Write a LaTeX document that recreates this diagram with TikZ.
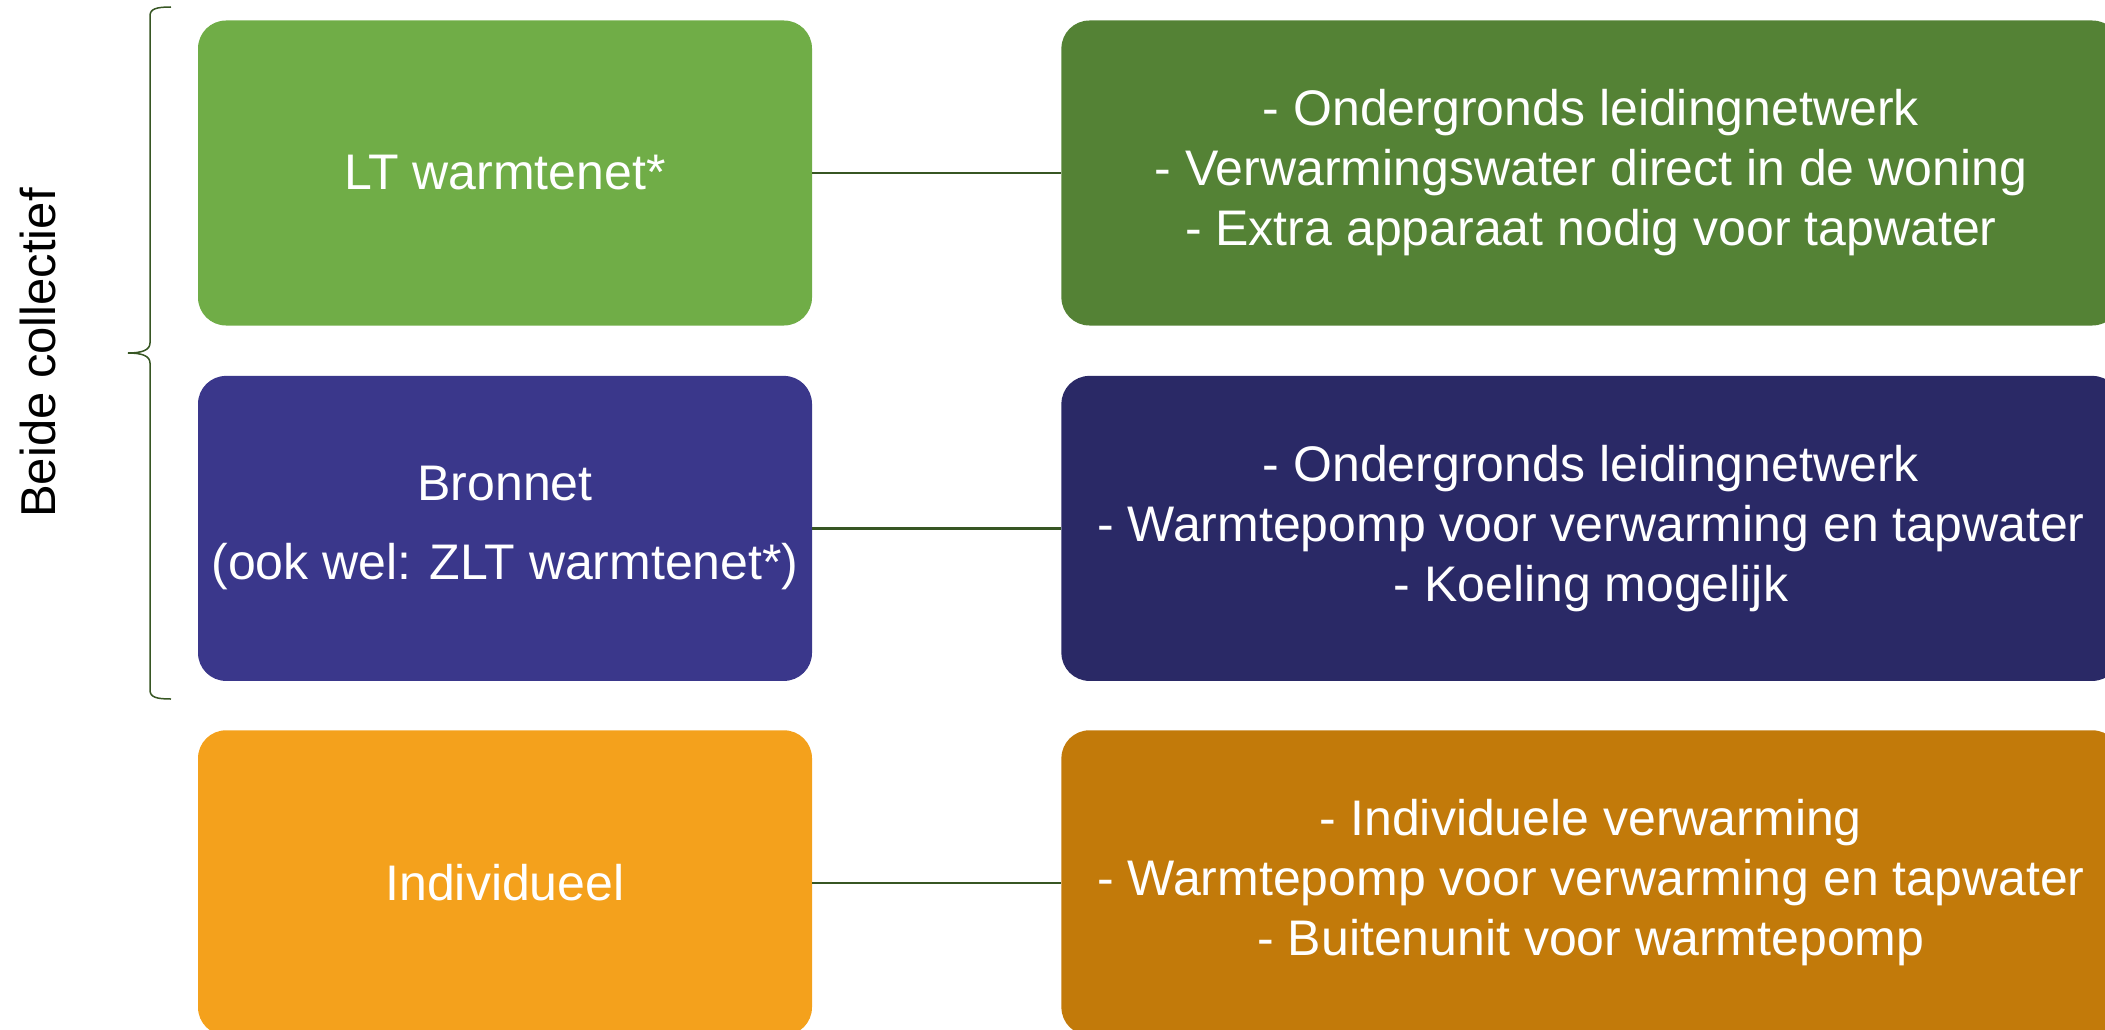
\documentclass[tikz,border=0pt]{standalone}
\usepackage{fontspec}
\setmainfont{Liberation Sans}
\usepackage{tikz}
\usetikzlibrary{positioning}
\definecolor{ltgroen}{HTML}{70AD47}
\definecolor{donkergroen}{HTML}{548235}
\definecolor{bronpaars}{HTML}{3A378B}
\definecolor{donkerpaars}{HTML}{2A2966}
\definecolor{oranje}{HTML}{F4A11C}
\definecolor{donkeroranje}{HTML}{C27A0A}
\definecolor{lijngroen}{HTML}{375623}

\begin{document}
\begin{tikzpicture}[x=1pt,y=-1pt]
			\def\hoek{28pt}
			\tikzset{optie/.style={draw=none,fill=#1,rectangle,rounded corners=\hoek,text=white,align=center,inner sep=0pt,minimum width=614pt,minimum height=305pt,font=\fontsize{50}{60}\selectfont},
				info/.style={optie=#1,minimum width=1059pt},
				verbinding/.style={draw=lijngroen,line width=2.2pt}}
			\useasboundingbox (0,0) rectangle (2105,1030);
			\clip (0,0) rectangle (2105,1030);
			% linker kolom
			\node[optie=ltgroen] (lt) at (505,173) {LT warmtenet*};
			\node[optie=bronpaars,below=50pt of lt] (bron) {Bronnet\\[19pt] (ook wel: ZLT warmtenet*)};
			\node[optie=oranje,below=49pt of bron] (indiv) {Individueel};
			% rechter kolom
			\node[info=donkergroen,right=249pt of lt] (lt-info) {- Ondergronds leidingnetwerk\\- Verwarmingswater direct in de woning\\- Extra apparaat nodig voor tapwater};
			\node[info=donkerpaars,right=249pt of bron] (bron-info) {- Ondergronds leidingnetwerk\\- Warmtepomp voor verwarming en tapwater\\- Koeling mogelijk};
			\node[info=donkeroranje,right=249pt of indiv] (indiv-info) {- Individuele verwarming\\- Warmtepomp voor verwarming en tapwater\\- Buitenunit voor warmtepomp};
			\foreach\n in {lt,bron,indiv}{
				\draw[verbinding] (\n.east) -- (\n-info.west);
			}
			% accolade
			\draw[lijngroen,line width=1.5pt] (171,7) .. controls (156,7) and (150,9) .. (150,16) -- (150,343) .. controls (150,350) and (142,353) .. (128,353) .. controls (142,353) and (150,356) .. (150,363) -- (150,690) .. controls (150,697) and (156,699) .. (171,699);
			\node[rotate=90,font=\fontsize{49}{59}\selectfont] (beide) at (38,353) {Beide collectief};
		\end{tikzpicture}
\end{document}
